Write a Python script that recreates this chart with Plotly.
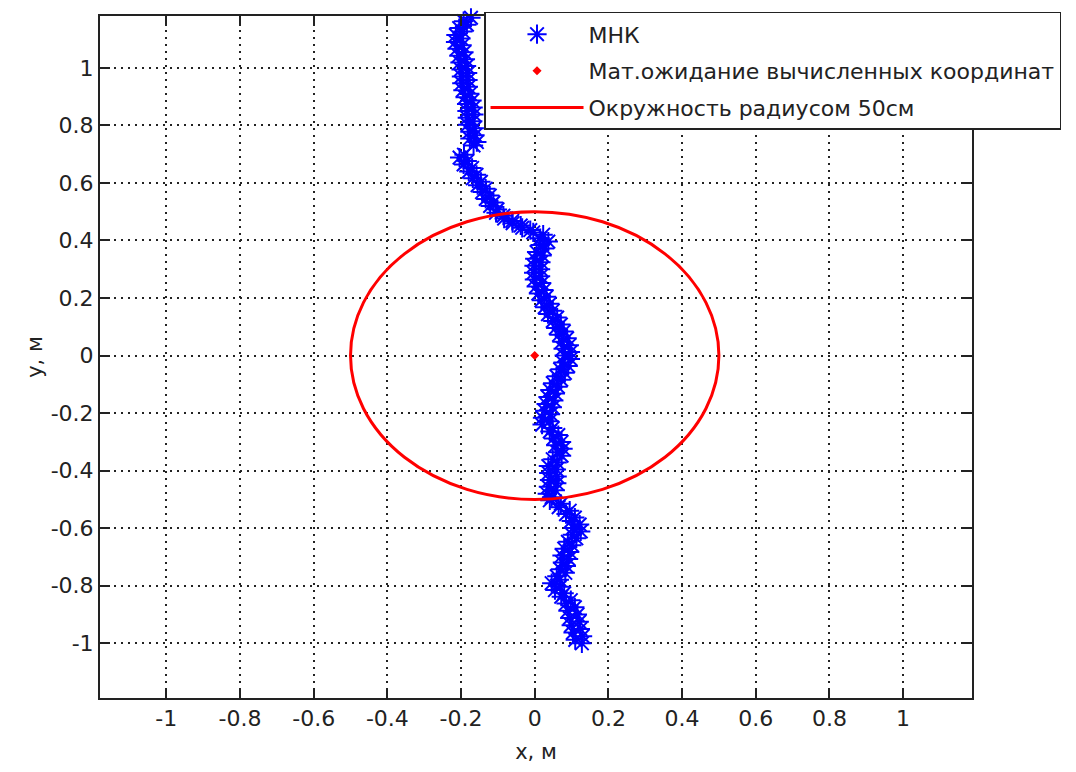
import plotly.graph_objects as go

# Estimated coordinates (least-squares solution), metres
mnk_y = [
    -1.000, -0.988, -0.975, -0.962, -0.950, -0.937, -0.925, -0.912, -0.900, -0.887,
    -0.875, -0.862, -0.850, -0.838, -0.826, -0.815, -0.803, -0.791, -0.779, -0.767,
    -0.755, -0.743, -0.731, -0.719, -0.707, -0.695, -0.683, -0.671, -0.659, -0.647,
    -0.635, -0.623, -0.611, -0.599, -0.587, -0.575, -0.563, -0.551, -0.539, -0.527,
    -0.515, -0.503, -0.492, -0.480, -0.468, -0.456, -0.444, -0.432, -0.420, -0.408,
    -0.396, -0.384, -0.372, -0.360, -0.348, -0.336, -0.324, -0.312, -0.300, -0.288,
    -0.276, -0.264, -0.252, -0.240, -0.228, -0.216, -0.204, -0.192, -0.180, -0.168,
    -0.156, -0.144, -0.132, -0.120, -0.108, -0.096, -0.084, -0.072, -0.060, -0.048,
    -0.036, -0.024, -0.012, 0.000, 0.012, 0.024, 0.036, 0.048, 0.060, 0.072,
    0.084, 0.096, 0.108, 0.120, 0.132, 0.144, 0.156, 0.168, 0.180, 0.192,
    0.204, 0.216, 0.228, 0.240, 0.252, 0.264, 0.276, 0.288, 0.300, 0.312,
    0.324, 0.336, 0.348, 0.360, 0.372, 0.384, 0.396, 0.408, 0.420, 0.428,
    0.436, 0.444, 0.452, 0.460, 0.468, 0.476, 0.486, 0.496, 0.508, 0.520,
    0.532, 0.544, 0.556, 0.568, 0.580, 0.592, 0.604, 0.616, 0.628, 0.640,
    0.652, 0.664, 0.676, 0.688, 0.698,
    0.730, 0.742, 0.754, 0.766, 0.778, 0.790, 0.802, 0.814, 0.826, 0.838,
    0.850, 0.862, 0.874, 0.886, 0.898, 0.910, 0.922, 0.934, 0.946, 0.958,
    0.970, 0.982, 0.994, 1.006, 1.018, 1.030, 1.042, 1.054, 1.066, 1.078,
    1.090, 1.102, 1.114, 1.126, 1.138, 1.150, 1.162, 1.174, 1.186,
]
mnk_x = [
    0.128, 0.110, 0.130, 0.104, 0.124, 0.099, 0.121, 0.095, 0.116, 0.090,
    0.109, 0.085, 0.098, 0.072, 0.080, 0.055, 0.069, 0.046, 0.067, 0.060,
    0.083, 0.070, 0.086, 0.075, 0.092, 0.074, 0.095, 0.080, 0.101, 0.090,
    0.113, 0.102, 0.125, 0.104, 0.122, 0.099, 0.109, 0.085, 0.095, 0.065,
    0.071, 0.041, 0.046, 0.034, 0.056, 0.037, 0.060, 0.040, 0.061, 0.038,
    0.059, 0.037, 0.061, 0.049, 0.073, 0.062, 0.077, 0.057, 0.073, 0.051,
    0.064, 0.041, 0.049, 0.020, 0.040, 0.021, 0.043, 0.027, 0.048, 0.031,
    0.052, 0.036, 0.056, 0.041, 0.063, 0.049, 0.072, 0.059, 0.082, 0.069,
    0.091, 0.077, 0.097, 0.080, 0.097, 0.077, 0.094, 0.074, 0.088, 0.066,
    0.079, 0.057, 0.071, 0.049, 0.061, 0.036, 0.049, 0.027, 0.041, 0.018,
    0.032, 0.010, 0.025, 0.004, 0.019, -0.001, 0.016, -0.003, 0.016, -0.002,
    0.017, 0.000, 0.020, 0.005, 0.027, 0.015, 0.037, 0.015, 0.023, -0.004,
    -0.012, -0.034, -0.038, -0.060, -0.061, -0.083, -0.085, -0.105, -0.101, -0.121,
    -0.112, -0.133, -0.122, -0.143, -0.133, -0.155, -0.146, -0.168, -0.158, -0.179,
    -0.170, -0.193, -0.183, -0.204, -0.192,
    -0.166, -0.157, -0.176, -0.162, -0.176, -0.164, -0.182, -0.168, -0.183, -0.165,
    -0.184, -0.167, -0.185, -0.170, -0.189, -0.176, -0.195, -0.180, -0.198, -0.181,
    -0.199, -0.182, -0.200, -0.185, -0.203, -0.188, -0.206, -0.192, -0.211, -0.197,
    -0.215, -0.200, -0.214, -0.195, -0.205, -0.184, -0.193, -0.173, -0.176,
]

# Expected value of the computed coordinates
mean_x = [0.0]
mean_y = [0.0]

# Reference circle
circle_r = 0.5

tick_vals = [-1, -0.8, -0.6, -0.4, -0.2, 0, 0.2, 0.4, 0.6, 0.8, 1]
tick_text = ["-1", "-0.8", "-0.6", "-0.4", "-0.2", "0", "0.2", "0.4", "0.6", "0.8", "1"]

FONT = "DejaVu Sans"
INK = "#222222"
BLUE = "#0000ff"
RED = "#ff0000"

fig = go.Figure()

fig.add_trace(go.Scatter(
    x=mnk_x, y=mnk_y, mode="markers", name="МНК",
    legendgroup="a",
    marker=dict(symbol="asterisk-open", size=16, color=BLUE,
                line=dict(color=BLUE, width=2)),
    cliponaxis=False,
))
fig.add_trace(go.Scatter(
    x=mean_x, y=mean_y, mode="markers",
    name="Мат.ожидание вычисленных координат",
    legendgroup="b",
    marker=dict(symbol="diamond", size=7, color=RED),
))
fig.add_trace(go.Scatter(
    x=[None], y=[None], mode="lines",
    name="Окружность радиусом 50см",
    legendgroup="c",
    line=dict(color=RED, width=3),
))

fig.add_shape(type="circle", xref="x", yref="y",
              x0=-circle_r, y0=-circle_r, x1=circle_r, y1=circle_r,
              line=dict(color=RED, width=3), layer="above")

axis_common = dict(
    tickvals=tick_vals, ticktext=tick_text,
    showgrid=True, gridcolor=INK, gridwidth=1.5, griddash="2px,5px",
    zeroline=False, showline=True, linecolor=INK, linewidth=2,
    mirror="allticks", ticks="inside", ticklen=10, tickwidth=2, tickcolor=INK,
    tickfont=dict(family=FONT, size=22, color=INK),
)

fig.update_xaxes(range=[-1.18, 1.187],
                 title=dict(text="x, м", font=dict(family=FONT, size=21, color=INK),
                            standoff=14),
                 **axis_common)
fig.update_yaxes(range=[-1.19, 1.18],
                 title=dict(text="y, м", font=dict(family=FONT, size=21, color=INK),
                            standoff=2),
                 **axis_common)

fig.update_layout(
    width=1076, height=772, autosize=False,
    margin=dict(l=100, r=104, t=13, b=74),
    paper_bgcolor="white", plot_bgcolor="white",
    font=dict(family=FONT, color=INK),
    legend=dict(
        x=0.4404, y=1.006, xanchor="left", yanchor="top",
        bgcolor="white", bordercolor=INK, borderwidth=1.5,
        font=dict(family=FONT, size=22, color=INK),
        itemwidth=93, tracegroupgap=5, traceorder="grouped",
    ),
)

fig.write_html("out.html")
